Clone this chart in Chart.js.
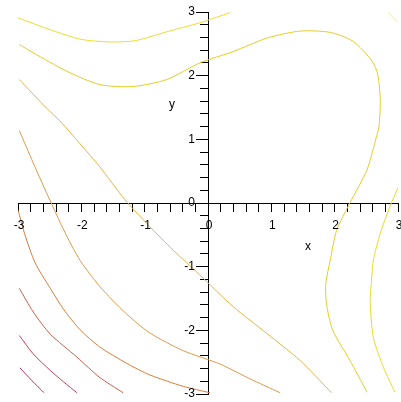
<!DOCTYPE html>
<html><head><meta charset="utf-8">
<script src="https://cdn.jsdelivr.net/npm/chart.js@4/dist/chart.umd.min.js"></script>
<style>html,body{margin:0;padding:0;background:#fff;overflow:hidden}</style>
</head><body>
<canvas id="c" width="401" height="402" style="width:401px;height:402px;display:block"></canvas>
<script>
// Tick labels (integers only; minor ticks every 0.2 carry no label)
const tickValues = [-3, -2, -1, 0, 1, 2, 3];
const tickLabels = ['-3', '-2', '-1', '0', '1', '2', '3'];
const axisTitleX = 'x';
const axisTitleY = 'y';

// Contour lines as [x, y] pairs (lowest level first)
const contourA = [[-2.97,-2.59],[-2.78,-2.79],[-2.59,-2.98]];
const contourB = [[-2.98,-2.08],[-2.76,-2.37],[-2.49,-2.63],[-2.28,-2.81],[-2.07,-2.98]];
const contourC = [[-2.98,-1.34],[-2.76,-1.71],[-2.49,-2.06],[-2.07,-2.42],[-1.71,-2.74],[-1.34,-2.98]];
const contourD = [[-3.0,-0.11],[-2.89,-0.50],[-2.73,-0.94],[-2.49,-1.34],[-2.28,-1.67],[-2.02,-1.99],[-1.71,-2.26],[-1.28,-2.52],[-0.92,-2.70],[-0.39,-2.88],[0.03,-2.98]];
const contourE = [[-2.98,1.14],[-2.76,0.63],[-2.49,0.03],[-2.23,-0.52],[-2.02,-0.90],[-1.71,-1.31],[-1.30,-1.73],[-0.92,-2.04],[-0.39,-2.32],[0.19,-2.53],[0.66,-2.76],[1.14,-2.98]];
const contourF = [[-2.98,1.94],[-2.55,1.49],[-2.34,1.29],[-2.02,0.93],[-1.71,0.57],[-1.31,0.05],[-0.92,-0.37],[-0.55,-0.74],[-0.13,-1.13],[0.40,-1.63],[0.93,-2.05],[1.45,-2.47],[1.95,-2.98]];
const contourG = [[-2.98,2.49],[-2.76,2.36],[-2.23,2.07],[-1.71,1.86],[-1.18,1.83],[-0.65,1.94],[-0.13,2.20],[0.40,2.38],[0.93,2.59],[1.45,2.70],[1.93,2.68],[2.29,2.54],[2.59,2.23],[2.68,2.02],[2.72,1.62],[2.70,1.20],[2.66,1.04],[2.51,0.52],[2.24,0.0],[2.03,-0.43],[1.93,-0.90],[1.86,-1.26],[1.87,-1.58],[1.97,-2.0],[2.24,-2.47],[2.51,-2.97]];
const contourH1 = [[-3.0,2.91],[-2.49,2.72],[-2.0,2.57],[-1.55,2.53],[-1.15,2.55],[-0.65,2.69],[-0.13,2.83],[0.35,2.99]];
const contourH2 = [[3.0,0.24],[2.87,-0.06],[2.72,-0.48],[2.61,-0.90],[2.58,-1.26],[2.56,-1.53],[2.61,-2.11],[2.77,-2.58],[2.95,-2.97]];
const contourI = [[2.85,2.99],[3.0,2.83]];

const contours = [contourA, contourB, contourC, contourD, contourE, contourF, contourG, contourH1, contourH2, contourI];
const lineColors = ['#c42c5c','#c8405a','#cc5c4c','#dc7c38','#e09a48','#e6b444','#e6cc24','#eadc30','#e8dc24','#f0ec98'];

const datasets = contours.map((pts, i) => ({
  data: pts.map(p => ({x: p[0], y: p[1]})),
  showLine: true,
  borderColor: lineColors[i],
  borderWidth: 1,
  pointRadius: 0,
  tension: 0.25,
  fill: false
}));

const FONT = '12px "Liberation Sans", Arial, sans-serif';

const axisText = {
  id: 'axisText',
  afterDraw(chart) {
    const {ctx, scales} = chart;
    const sx = scales.x, sy = scales.y;
    const x0 = sx.getPixelForValue(0), y0 = sy.getPixelForValue(0);
    ctx.save();
    ctx.font = FONT;
    ctx.fillStyle = '#000';
    ctx.textAlign = 'center';
    ctx.textBaseline = 'middle';
    tickValues.forEach((v, i) => ctx.fillText(tickLabels[i], sx.getPixelForValue(v) + 1, y0 + 23));
    ctx.textAlign = 'right';
    tickValues.forEach((v, i) => ctx.fillText(tickLabels[i], x0 - 13, sy.getPixelForValue(v)));
    ctx.textAlign = 'center';
    ctx.fillText(axisTitleX, sx.getPixelForValue(1.58), sy.getPixelForValue(-0.68));
    ctx.fillText(axisTitleY, sx.getPixelForValue(-0.57), sy.getPixelForValue(1.55));
    ctx.restore();
  }
};

function axis(step, len, border, dir) {
  return {
    type: 'linear', min: -3, max: 3, axis: dir,
    border: {display: border, color: '#000', width: 1},
    grid: {drawOnChartArea: false, drawTicks: true, tickLength: len, color: '#000', lineWidth: 1},
    ticks: {stepSize: step, autoSkip: false, display: false}
  };
}

new Chart(document.getElementById('c'), {
  type: 'scatter',
  data: {datasets},
  options: {
    responsive: false, animation: false, devicePixelRatio: 1,
    layout: {padding: {left: 18, right: 3, top: 12, bottom: 8}},
    plugins: {legend: {display: false}, tooltip: {enabled: false}},
    scales: {
      x: Object.assign(axis(0.2, 8, true, 'x'), {position: {y: 0}}),
      y: Object.assign(axis(0.2, 8, true, 'y'), {position: {x: 0}}),
      yMajor: Object.assign(axis(1, 12, false, 'y'), {position: {x: 0}})
    }
  },
  plugins: [axisText]
});
</script>
</body></html>
